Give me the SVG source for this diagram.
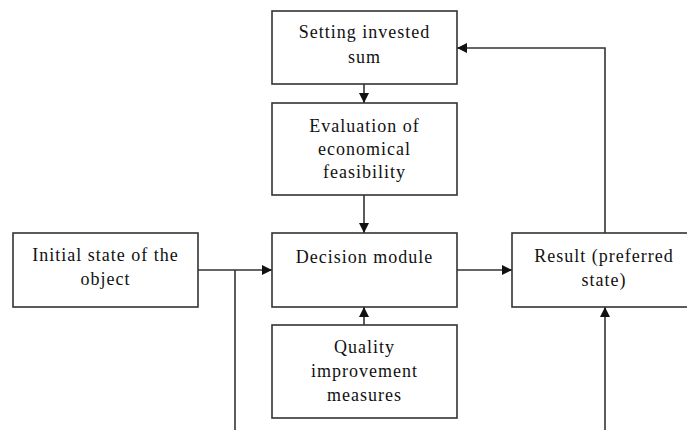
<svg xmlns="http://www.w3.org/2000/svg" width="687" height="430" viewBox="0 0 687 430">
<defs>
<style>
.box{fill:#fff;stroke:#333;stroke-width:1.6}
.ln{fill:none;stroke:#333;stroke-width:1.6}
text{font-family:"Liberation Serif","Times New Roman",serif;font-size:18px;letter-spacing:1px;fill:#111;text-anchor:middle}
</style>
<marker id="ah" markerUnits="userSpaceOnUse" markerWidth="10" markerHeight="10" refX="10" refY="5" orient="auto">
<path d="M0,0 L10,5 L0,10 z" fill="#111"/>
</marker>
</defs>
<rect width="687" height="430" fill="#fff"/>
<g id="connectors">
<line class="ln" x1="364" y1="84" x2="364" y2="103" marker-end="url(#ah)"/>
<line class="ln" x1="364" y1="195" x2="364" y2="233" marker-end="url(#ah)"/>
<line class="ln" x1="364" y1="325" x2="364" y2="307" marker-end="url(#ah)"/>
<line class="ln" x1="198" y1="270" x2="272" y2="270" marker-end="url(#ah)"/>
<line class="ln" x1="235" y1="270" x2="235" y2="430"/>
<line class="ln" x1="457" y1="270" x2="512" y2="270" marker-end="url(#ah)"/>
<polyline class="ln" points="605,233 605,48 457,48" marker-end="url(#ah)"/>
<line class="ln" x1="605" y1="430" x2="605" y2="307" marker-end="url(#ah)"/>
</g>
<g id="setting">
<rect class="box" x="272" y="11" width="185" height="73"/>
<text x="364.5" y="38">Setting invested</text>
<text x="364.5" y="63">sum</text>
</g>
<g id="evaluation">
<rect class="box" x="272" y="103" width="185" height="92"/>
<text x="364.5" y="132">Evaluation of</text>
<text x="364.5" y="155">economical</text>
<text x="364.5" y="178">feasibility</text>
</g>
<g id="initial">
<rect class="box" x="13" y="233" width="185" height="74"/>
<text x="105.5" y="261">Initial state of the</text>
<text x="105.5" y="285">object</text>
</g>
<g id="decision">
<rect class="box" x="272" y="233" width="185" height="74"/>
<text x="364.5" y="263">Decision module</text>
</g>
<g id="result">
<rect class="box" x="512" y="233" width="190" height="74"/>
<text x="604" y="262">Result (preferred</text>
<text x="604" y="286">state)</text>
</g>
<g id="quality">
<rect class="box" x="272" y="325" width="185" height="93"/>
<text x="364.5" y="353">Quality</text>
<text x="364.5" y="377">improvement</text>
<text x="364.5" y="401">measures</text>
</g>
</svg>
